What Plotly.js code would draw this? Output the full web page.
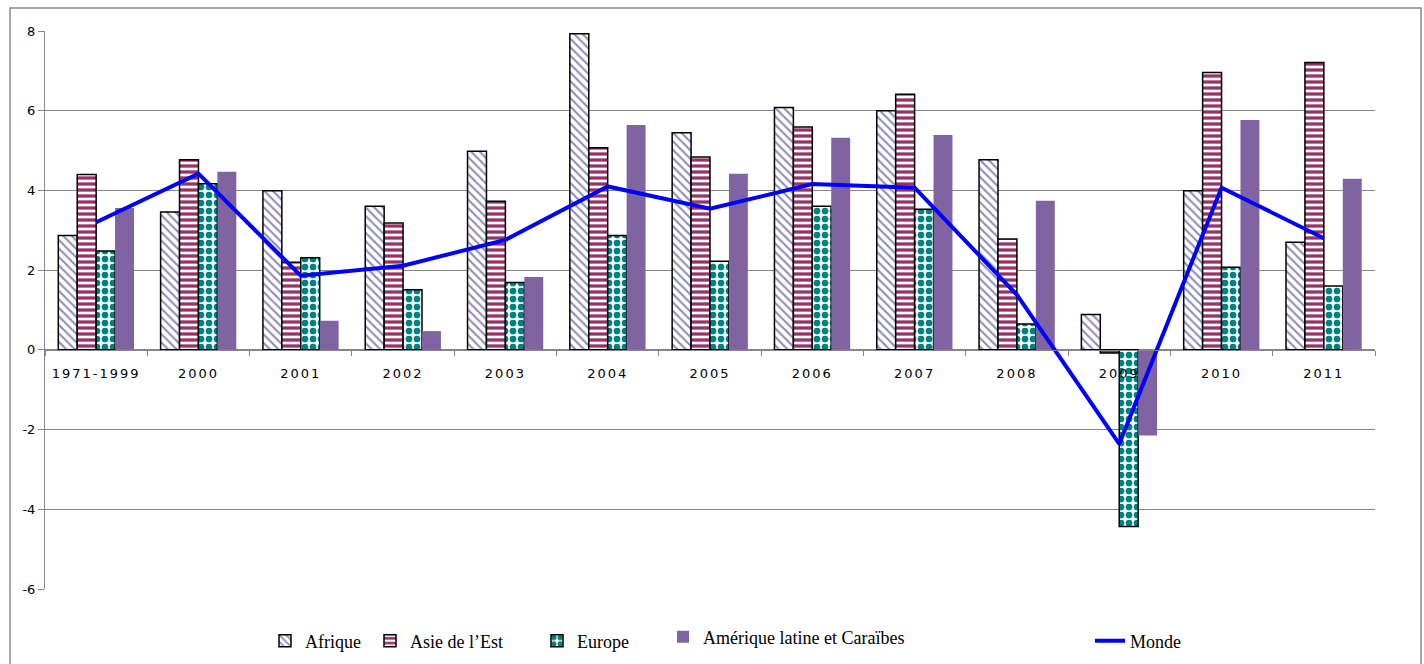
<!DOCTYPE html>
<html>
<head>
<meta charset="utf-8">
<script src="https://cdn.plot.ly/plotly-3.0.1.min.js"></script>
<style>
  html, body { margin: 0; padding: 0; background: #fff; }
  #chart { width: 1424px; height: 664px; }
  .xtick text { letter-spacing: 2px; }
</style>
</head>
<body>
<div id="chart"></div>
<script>
const categories = ['1971-1999','2000','2001','2002','2003','2004','2005','2006','2007','2008','2009','2010','2011'];
const afrique  = [2.87, 3.46, 3.99, 3.60, 4.98, 7.93, 5.45, 6.08, 6.00, 4.77, 0.89, 3.99, 2.70];
const asieEst  = [4.40, 4.77, 2.20, 3.18, 3.73, 5.07, 4.84, 5.59, 6.41, 2.78, -0.08, 6.96, 7.21];
const europe   = [2.48, 4.17, 2.31, 1.51, 1.69, 2.87, 2.22, 3.60, 3.53, 0.65, -4.43, 2.07, 1.60];
const amerique = [3.56, 4.47, 0.73, 0.47, 1.83, 5.64, 4.42, 5.32, 5.39, 3.74, -2.15, 5.77, 4.29];
const monde    = [3.20, 4.42, 1.86, 2.11, 2.76, 4.10, 3.54, 4.16, 4.07, 1.38, -2.36, 4.07, 2.80];
const yTicks   = [-6, -4, -2, 0, 2, 4, 6, 8];

const W = 1424, H = 664;
const L = 45, R = 49, T = 31, B = 75;
const pw = W - L - R, ph = H - T - B;
const px = v => (v - L) / pw;
const py = v => (H - B - v) / ph;

const outline = {color: '#000', width: 1.5};
const traces = [
  {type: 'bar', name: 'Afrique', x: categories, y: afrique, legend: 'legend',
   marker: {color: '#fff', line: outline,
            pattern: {shape: '\\', fgcolor: '#8c8cb8', bgcolor: '#fff', size: 6, solidity: 0.35}}},
  {type: 'bar', name: 'Asie de l\u2019Est', x: categories, y: asieEst, legend: 'legend2',
   marker: {color: '#fff', line: outline,
            pattern: {shape: '-', fgcolor: '#993366', bgcolor: '#fff', size: 6, solidity: 0.55}}},
  {type: 'bar', name: 'Europe', x: categories, y: europe, legend: 'legend3',
   marker: {color: '#fff', line: outline,
            pattern: {shape: '.', fgcolor: '#008080', bgcolor: '#fff', size: 8, solidity: 0.55}}},
  {type: 'bar', name: 'Amérique latine et Caraïbes', x: categories, y: amerique, legend: 'legend4',
   marker: {color: '#8064a2', line: {width: 0}}},
  {type: 'scatter', mode: 'lines', name: 'Monde', x: categories, y: monde, legend: 'legend5',
   line: {color: '#0000ff', width: 4}}
];

const legFont = {family: '"Liberation Serif", "Times New Roman", serif', size: 18, color: '#000'};
function leg(xpx, ypx) {
  return {orientation: 'h', x: px(xpx), xanchor: 'left', y: py(ypx), yanchor: 'middle',
          font: legFont, bgcolor: 'rgba(0,0,0,0)', borderwidth: 0};
}

const layout = {
  width: W, height: H,
  margin: {l: L, r: R, t: T, b: B, autoexpand: false},
  paper_bgcolor: '#fff', plot_bgcolor: '#fff',
  barmode: 'group', bargap: 0.26, bargroupgap: 0,
  showlegend: true,
  legend: leg(265, 641),
  legend2: leg(370, 641),
  legend3: leg(537, 641),
  legend4: leg(663, 637),
  legend5: leg(1090, 641),
  xaxis: {
    type: 'category', anchor: 'free', position: 6 / 14,
    showline: true, linecolor: '#868686', linewidth: 1,
    ticks: 'outside', tickson: 'boundaries', ticklen: 5, tickcolor: '#868686',
    ticklabelstandoff: 12,
    showgrid: false, zeroline: false,
    tickfont: {family: '"DejaVu Sans", Verdana, sans-serif', size: 13, color: '#000'},
    fixedrange: true
  },
  yaxis: {
    range: [-6, 8], tickvals: yTicks, ticktext: yTicks.map(String),
    showline: true, linecolor: '#868686', linewidth: 1,
    ticks: 'outside', ticklen: 6, tickcolor: '#868686',
    showgrid: true, gridcolor: '#868686', gridwidth: 1,
    zeroline: false,
    tickfont: {family: '"DejaVu Sans", Verdana, sans-serif', size: 13, color: '#000'},
    fixedrange: true
  },
  shapes: [
    {type: 'rect', xref: 'paper', yref: 'paper', layer: 'below',
     x0: px(10), x1: px(1421), y0: py(668), y1: py(8),
     line: {color: '#8a8a8a', width: 1.5}, fillcolor: 'rgba(0,0,0,0)'}
  ]
};

Plotly.newPlot('chart', traces, layout, {staticPlot: true, displayModeBar: false});
</script>
</body>
</html>
